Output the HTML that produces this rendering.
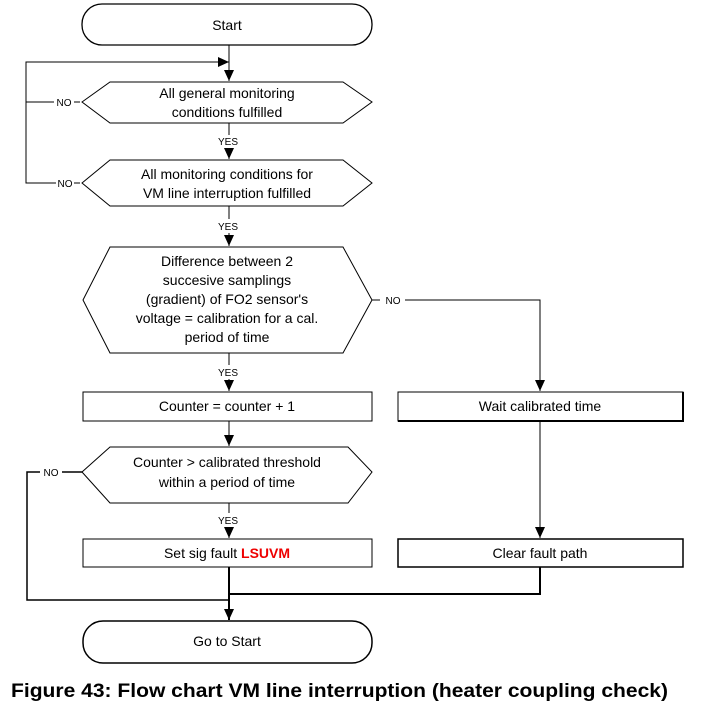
<!DOCTYPE html>
<html><head><style>body{margin:0;background:#fff}svg{display:block}</style></head><body>
<svg width="706" height="707" viewBox="0 0 706 707" xmlns="http://www.w3.org/2000/svg" font-family="Liberation Sans, sans-serif">
<defs>
<marker id="a" markerWidth="12" markerHeight="12" refX="11" refY="5" orient="auto" markerUnits="userSpaceOnUse" viewBox="0 0 12 12"><path d="M0,0 L11,5 L0,10 Z" fill="#000"/></marker>
<marker id="r" markerWidth="12" markerHeight="12" refX="11" refY="5" orient="auto" markerUnits="userSpaceOnUse" viewBox="0 0 12 12"><path d="M0,0 L11,5 L0,10 Z" fill="#000"/></marker></defs>
<g fill="none" stroke="#000" stroke-width="1">
<rect x="82" y="4" width="290" height="41" rx="20" stroke-width="1.3"/>
<path d="M82,102 L110,82 L343,82 L372,102 L343,123 L110,123 Z"/>
<path d="M82,183 L110,160 L343,160 L372,183 L343,206 L110,206 Z"/>
<path d="M83,300 L110,247 L343,247 L372,300 L343,353 L110,353 Z"/>
<rect x="83" y="392" width="289" height="29"/>
<path d="M398,392 H683 V421 H398 Z"/><path d="M398,421 H683 V392" stroke-width="2"/>
<path d="M82,472 L110,447 L348,447 L372,472 L348,503 L110,503 Z"/>
<rect x="83" y="539" width="289" height="28"/>
<path d="M398,539 H683 V567 H398 Z" stroke-width="1.5"/>
<rect x="83" y="621" width="289" height="42" rx="20" stroke-width="1.5"/>
<path d="M229,45 V81" marker-end="url(#a)"/>
<path d="M54,102 H26 V62 H229" marker-end="url(#r)"/>
<path d="M80,102 H74"/>
<path d="M80,183 H74 M56,183 H26 V102"/>
<path d="M229,123 V135 M229,149 V159" marker-end="url(#a)"/>
<path d="M229,206 V219 M229,233 V246" marker-end="url(#a)"/>
<path d="M229,353 V365 M229,379 V391" marker-end="url(#a)"/>
<path d="M372,300 H380 M405,300 H540 V391" marker-end="url(#a)"/>
<path d="M229,421 V446" marker-end="url(#a)"/>
<path d="M229,503 V513 M229,527 V538" marker-end="url(#a)"/>
<path d="M540,421 V538" marker-end="url(#a)"/>
<path d="M82,472 H62 M40,472 H27 V600 H229" stroke-width="1.5"/>
<path d="M229,567 V620" stroke-width="2" marker-end="url(#a)"/>
<path d="M540,567 V594 H229" stroke-width="2"/>
</g>
<g font-size="14" text-anchor="middle" fill="#000">
<text x="227" y="30">Start</text>
<text x="227" y="98">All general monitoring</text>
<text x="227" y="117">conditions fulfilled</text>
<text x="227" y="179">All monitoring conditions for</text>
<text x="227" y="198">VM line interruption fulfilled</text>
<text x="227" y="266">Difference between 2</text>
<text x="227" y="285">succesive samplings</text>
<text x="227" y="304">(gradient) of FO2 sensor's</text>
<text x="227" y="323">voltage = calibration for a cal.</text>
<text x="227" y="342">period of time</text>
<text x="227" y="411">Counter = counter + 1</text>
<text x="540" y="411">Wait calibrated time</text>
<text x="227" y="467">Counter &gt; calibrated threshold</text>
<text x="227" y="487">within a period of time</text>
<text x="227" y="558">Set sig fault <tspan fill="#e00" font-weight="bold">LSUVM</tspan></text>
<text x="540" y="558">Clear fault path</text>
<text x="227" y="646">Go to Start</text>
</g>
<g font-size="10" text-anchor="middle" fill="#000">
<text x="64" y="106">NO</text><text x="65" y="187">NO</text><text x="393" y="304">NO</text><text x="51" y="476">NO</text>
<text x="228" y="145">YES</text><text x="228" y="230">YES</text><text x="228" y="376">YES</text><text x="228" y="524">YES</text>
</g>
<text x="11" y="697" font-size="19" font-weight="bold" textLength="657" lengthAdjust="spacingAndGlyphs">Figure 43: Flow chart VM line interruption (heater coupling check)</text>
</svg>
</body></html>
